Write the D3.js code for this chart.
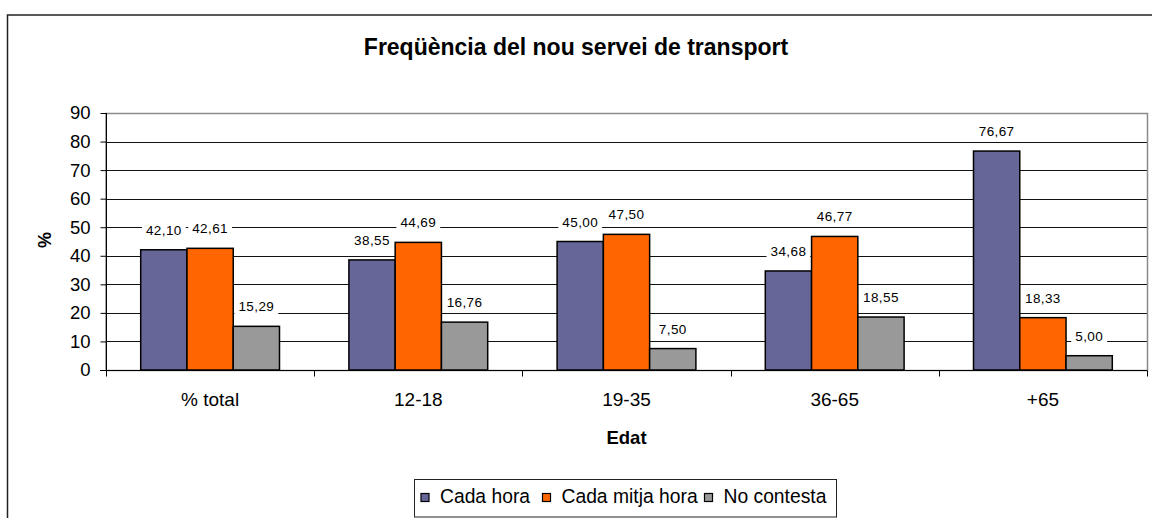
<!DOCTYPE html>
<html>
<head>
<meta charset="utf-8">
<script src="https://cdn.jsdelivr.net/npm/d3@7"></script>
<style>
  body { margin: 0; background: #fff; }
  svg { display: block; font-family: "Liberation Sans", Arial, sans-serif; }
</style>
</head>
<body>
<div id="chart"></div>
<script>
// data
var categories = ["% total", "12-18", "19-35", "36-65", "+65"];
var seriesNames = ["Cada hora", "Cada mitja hora", "No contesta"];
var cadaHora = [42.10, 38.55, 45.00, 34.68, 76.67];
var cadaMitja = [42.61, 44.69, 47.50, 46.77, 18.33];
var noContesta = [15.29, 16.76, 7.50, 18.55, 5.00];
var yTicks = [0, 10, 20, 30, 40, 50, 60, 70, 80, 90];
var colors = ["#666699", "#ff6600", "#999999"];

var W = 1152, H = 518;
var plot = { left: 106, right: 1147, top: 113, bottom: 370 };

var svg = d3.select("#chart").append("svg")
    .attr("width", W)
    .attr("height", H);

// outer frame
svg.append("rect")
    .attr("x", 7.5).attr("y", 15)
    .attr("width", 1160).attr("height", 530)
    .attr("fill", "none")
    .attr("stroke", "#222")
    .attr("stroke-width", 1.5);

svg.append("text")
    .attr("x", 576).attr("y", 55)
    .attr("text-anchor", "middle")
    .attr("font-size", "23px")
    .attr("font-weight", "bold")
    .text("Freqüència del nou servei de transport");

var x0 = d3.scaleBand().domain(categories).range([plot.left, plot.right]);
var bw = x0.bandwidth();
var gap = bw * 0.75 / 4.5;
var x1 = d3.scaleBand().domain(seriesNames).range([gap, bw - gap]);
var y = d3.scaleLinear().domain([0, 90]).range([plot.bottom, plot.top]);

// gridlines
svg.append("g")
    .selectAll("line").data(yTicks.filter(function(d) { return d > 0 && d < 90; }))
    .enter().append("line")
    .attr("x1", plot.left).attr("x2", plot.right)
    .attr("y1", function(d) { return Math.round(y(d)) + 0.5; })
    .attr("y2", function(d) { return Math.round(y(d)) + 0.5; })
    .attr("stroke", "#111")
    .attr("stroke-width", 1);

// plot area border
svg.append("rect")
    .attr("x", plot.left).attr("y", plot.top + 0.5)
    .attr("width", plot.right - plot.left + 0.5)
    .attr("height", plot.bottom - plot.top)
    .attr("fill", "none")
    .attr("stroke", "#8a8a8a")
    .attr("stroke-width", 1.5);

var rows = categories.map(function(c, i) {
    return { cat: c, values: [cadaHora[i], cadaMitja[i], noContesta[i]] };
});

var groups = svg.append("g").selectAll("g").data(rows)
    .enter().append("g")
    .attr("transform", function(d) { return "translate(" + x0(d.cat) + ",0)"; });

var fmt = function(v) { return d3.format(".2f")(v).replace(".", ","); };

// value labels (white box behind, covering gridlines)
groups.each(function(d) {
    var g = d3.select(this);
    d.values.forEach(function(v, j) {
        var cx = x1(seriesNames[j]) + x1.bandwidth() / 2;
        var cy = y(v) - 20;
        var t = g.append("text")
            .attr("x", cx).attr("y", cy + 5)
            .attr("text-anchor", "middle")
            .attr("font-size", "13.5px")
            .attr("letter-spacing", "0.4px")
            .text(fmt(v));
        var bb = t.node().getBBox();
        g.insert("rect", "text")
            .attr("x", bb.x - 4).attr("y", cy - 9)
            .attr("width", bb.width + 8).attr("height", 18)
            .attr("fill", "#fff");
    });
});

// bars
groups.selectAll("rect.bar")
    .data(function(d) { return d.values.map(function(v, j) { return { v: v, s: seriesNames[j], j: j }; }); })
    .enter().append("rect")
    .attr("class", "bar")
    .attr("x", function(d) { return x1(d.s); })
    .attr("y", function(d) { return y(d.v); })
    .attr("width", x1.bandwidth())
    .attr("height", function(d) { return y(0) - y(d.v); })
    .attr("fill", function(d) { return colors[d.j]; })
    .attr("stroke", "#000")
    .attr("stroke-width", 1.5);

// y axis
var yAxis = d3.axisLeft(y).tickValues(yTicks).tickSize(6).tickPadding(10);
var gy = svg.append("g")
    .attr("transform", "translate(" + (plot.left + 0.5) + ",0)")
    .call(yAxis);
gy.selectAll("text").attr("font-size", "18.5px").attr("fill", "#000").attr("font-family", null);
gy.selectAll("line, path").attr("stroke", "#000");
gy.select(".domain").attr("d", "M0," + (plot.top) + "V" + plot.bottom);

// x axis
var xAxis = d3.axisBottom(x0).tickSize(0).tickPadding(22);
var gx = svg.append("g")
    .attr("transform", "translate(0," + (plot.bottom + 0.5) + ")")
    .call(xAxis);
gx.selectAll("text").attr("font-size", "19px").attr("fill", "#000").attr("font-family", null);
gx.select(".domain").attr("stroke", "#000").attr("d", "M" + (plot.left - 6) + ",0H" + plot.right);
gx.selectAll("line.sep").data(d3.range(categories.length + 1))
    .enter().append("line")
    .attr("class", "sep")
    .attr("x1", function(i) { return Math.round(plot.left + i * bw) + 0.5; })
    .attr("x2", function(i) { return Math.round(plot.left + i * bw) + 0.5; })
    .attr("y1", 0).attr("y2", 6)
    .attr("stroke", "#000");

// axis titles
svg.append("text")
    .attr("transform", "translate(51,240) rotate(-90)")
    .attr("text-anchor", "middle")
    .attr("font-size", "18px")
    .attr("font-weight", "bold")
    .text("%");

svg.append("text")
    .attr("x", (plot.left + plot.right) / 2).attr("y", 444)
    .attr("text-anchor", "middle")
    .attr("font-size", "18.5px")
    .attr("font-weight", "bold")
    .text("Edat");

// legend
var legend = svg.append("g");
legend.append("rect")
    .attr("x", 414.5).attr("y", 479.5)
    .attr("width", 422).attr("height", 37.5)
    .attr("fill", "#fff")
    .attr("stroke", "#222");
var legendX = [421, 542.5, 704.5];
seriesNames.forEach(function(s, i) {
    legend.append("rect")
        .attr("x", legendX[i]).attr("y", 493.5)
        .attr("width", 8).attr("height", 8)
        .attr("fill", colors[i])
        .attr("stroke", "#000")
        .attr("stroke-width", 1.2);
    legend.append("text")
        .attr("x", legendX[i] + 19).attr("y", 503)
        .attr("font-size", "19.3px")
        .text(s);
});
</script>
</body>
</html>
